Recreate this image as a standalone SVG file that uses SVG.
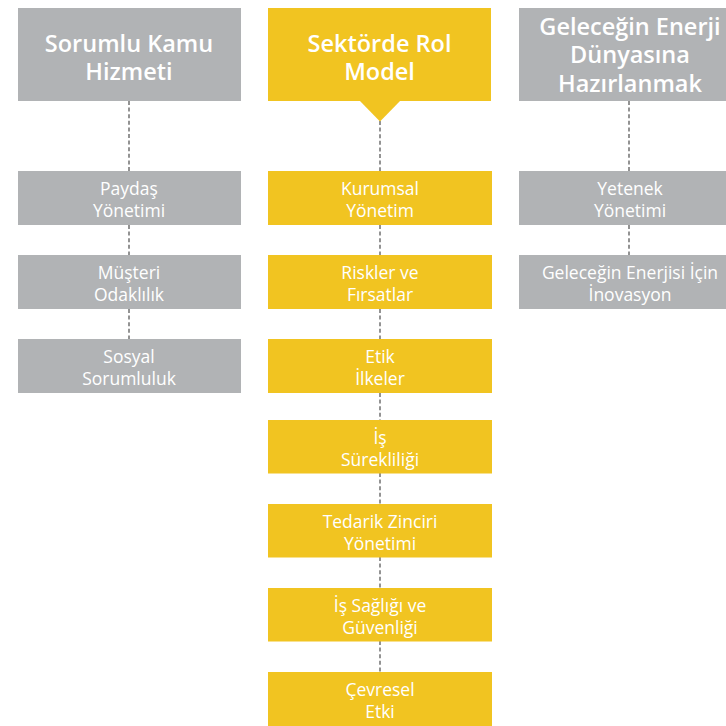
<svg xmlns="http://www.w3.org/2000/svg" width="726" height="726" viewBox="0 0 726 726">
<style>
.g{fill:#b1b3b5}
.y{fill:#f1c421}
.h{font-family:"Open Sans","Noto Sans",sans-serif;font-weight:600;font-size:23.5px;fill:#ffffff;text-anchor:middle}
.t{font-family:"Open Sans","Noto Sans",sans-serif;font-size:17.5px;fill:#ffffff;text-anchor:middle}
.c line{stroke:#5a5a5a;stroke-width:1.3;stroke-dasharray:4 2.6}
</style>
<rect width="726" height="726" fill="#ffffff"/>
<g class="c" id="connectors">
<line x1="129" y1="101" x2="129" y2="171"/>
<line x1="129" y1="225" x2="129" y2="255"/>
<line x1="129" y1="309" x2="129" y2="339"/>
<line x1="380" y1="121" x2="380" y2="171"/>
<line x1="380" y1="225" x2="380" y2="255"/>
<line x1="380" y1="309" x2="380" y2="339"/>
<line x1="380" y1="393" x2="380" y2="420"/>
<line x1="380" y1="473" x2="380" y2="504"/>
<line x1="380" y1="557" x2="380" y2="588"/>
<line x1="380" y1="641" x2="380" y2="672"/>
<line x1="629" y1="101" x2="629" y2="171"/>
<line x1="629" y1="225" x2="629" y2="255"/>
</g>
<g id="h1"><rect class="g" x="18" y="8" width="223" height="93"/>
<text class="h" x="129" y="52">Sorumlu Kamu</text><text class="h" x="129" y="80">Hizmeti</text></g>
<g id="h2"><rect class="y" x="268" y="8" width="223" height="93"/><polygon class="y" points="359,100 401,100 380,121.5"/>
<text class="h" x="379.5" y="52">Sektörde Rol</text><text class="h" x="379.5" y="80">Model</text></g>
<g id="h3"><rect class="g" x="519" y="8" width="223" height="93"/>
<text class="h" x="630" y="35">Geleceğin Enerji</text><text class="h" x="630" y="63">Dünyasına</text><text class="h" x="630" y="91.5">Hazırlanmak</text></g>

<g id="l1"><rect class="g" x="18" y="171" width="223" height="54"/><text class="t" x="129" y="194.5">Paydaş</text><text class="t" x="129" y="216.5">Yönetimi</text></g>
<g id="l2"><rect class="g" x="18" y="255" width="223" height="54"/><text class="t" x="129" y="278.5">Müşteri</text><text class="t" x="129" y="300.5">Odaklılık</text></g>
<g id="l3"><rect class="g" x="18" y="339" width="223" height="54"/><text class="t" x="129" y="362.5">Sosyal</text><text class="t" x="129" y="384.5">Sorumluluk</text></g>

<g id="m1"><rect class="y" x="268" y="171" width="224" height="54"/><text class="t" x="380" y="194.5">Kurumsal</text><text class="t" x="380" y="216.5">Yönetim</text></g>
<g id="m2"><rect class="y" x="268" y="255" width="224" height="54"/><text class="t" x="380" y="278.5">Riskler ve</text><text class="t" x="380" y="300.5">Fırsatlar</text></g>
<g id="m3"><rect class="y" x="268" y="339" width="224" height="54"/><text class="t" x="380" y="362.5">Etik</text><text class="t" x="380" y="384.5">İlkeler</text></g>
<g id="m4"><rect class="y" x="268" y="420" width="224" height="53.5"/><text class="t" x="380" y="443.5">İş</text><text class="t" x="380" y="465.5">Sürekliliği</text></g>
<g id="m5"><rect class="y" x="268" y="504" width="224" height="53.5"/><text class="t" x="380" y="527.5">Tedarik Zinciri</text><text class="t" x="380" y="549.5">Yönetimi</text></g>
<g id="m6"><rect class="y" x="268" y="588" width="224" height="53.5"/><text class="t" x="380" y="611.5">İş Sağlığı ve</text><text class="t" x="380" y="633.5">Güvenliği</text></g>
<g id="m7"><rect class="y" x="268" y="672" width="224" height="54"/><text class="t" x="380" y="695.5">Çevresel</text><text class="t" x="380" y="717.5">Etki</text></g>

<g id="r1"><rect class="g" x="519" y="171" width="223" height="54"/><text class="t" x="630" y="194.5">Yetenek</text><text class="t" x="630" y="216.5">Yönetimi</text></g>
<g id="r2"><rect class="g" x="519" y="255" width="223" height="54"/><text class="t" x="630" y="278.5">Geleceğin Enerjisi İçin</text><text class="t" x="630" y="300.5">İnovasyon</text></g>
</svg>
